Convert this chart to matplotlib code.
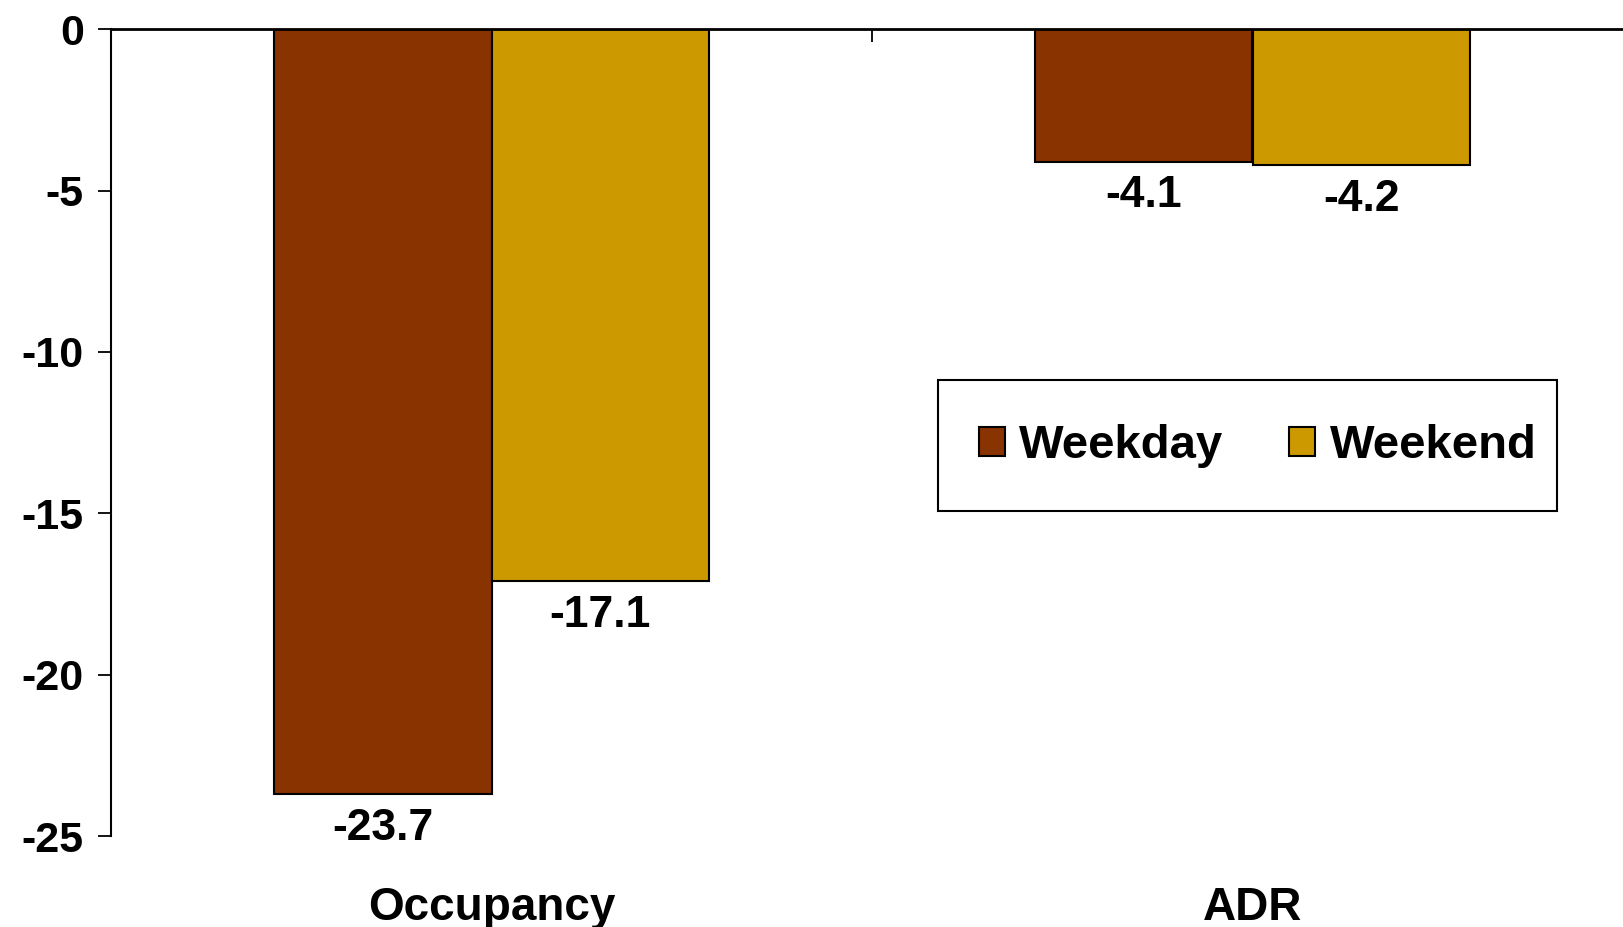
import matplotlib
matplotlib.use("Agg")
import matplotlib.pyplot as plt
from matplotlib.patches import Rectangle
import numpy as np

categories = ["Occupancy", "ADR"]
weekday = [-23.7, -4.1]
weekend = [-17.1, -4.2]
series_names = ["Weekday", "Weekend"]
yticks = [0, -5, -10, -15, -20, -25]
ytick_labels = ["0", "-5", "-10", "-15", "-20", "-25"]

plt.rcParams["font.family"] = ["Liberation Sans", "DejaVu Sans"]
plt.rcParams["font.weight"] = "bold"
plt.rcParams["axes.unicode_minus"] = False

C_WD = "#883300"
C_WE = "#CC9900"

fig = plt.figure(figsize=(16.23, 9.27), dpi=100)
ax = fig.add_axes([111/1623, 1-836/927, 1522/1623, (836-29.3)/927])

x = np.arange(len(categories))
w = 0.286
b1 = ax.bar(x - w/2, weekday, w, color=C_WD, edgecolor="black", linewidth=1.5, label=series_names[0], zorder=2)
b2 = ax.bar(x + w/2, weekend, w, color=C_WE, edgecolor="black", linewidth=1.5, label=series_names[1], zorder=2)

for bars, vals in ((b1, weekday), (b2, weekend)):
    for r, v in zip(bars, vals):
        ax.annotate(f"{v:.1f}", (r.get_x() + r.get_width()/2, v), xytext=(0, -10),
                    textcoords="offset points", ha="center", va="top",
                    fontsize=32, fontweight="bold")

ax.set_xlim(-0.5, 1.5)
ax.set_ylim(-25, 0)
ax.set_yticks(yticks)
ax.set_yticklabels(ytick_labels, fontsize=31, fontweight="bold")
ax.tick_params(axis="y", direction="out", length=9.5, width=1.3, pad=10)

ax.set_xticks(x)
ax.set_xticklabels(categories, fontsize=33, fontweight="bold")
ax.tick_params(axis="x", which="major", length=0, pad=36, bottom=True, top=False)
ax.set_xticks([0.5, 1.5], minor=True)
ax.tick_params(axis="x", which="minor", top=True, bottom=False, direction="in", length=9, width=1.3)

for s in ("bottom", "right"):
    ax.spines[s].set_visible(False)
ax.spines["top"].set_linewidth(2)
ax.spines["left"].set_linewidth(1.5)

# legend box
fig.add_artist(Rectangle((938/1623, 1-511/927), 619/1623, 131/927, transform=fig.transFigure,
                         fill=True, facecolor="white", edgecolor="black", linewidth=1.5, zorder=5))
leg = fig.legend(handles=[b1, b2], labels=series_names, loc="center left",
                 bbox_to_anchor=(979/1623, 1-446/927),
                 ncol=2, prop={"weight": "bold", "size": 34},
                 frameon=False, borderpad=0, borderaxespad=0,
                 handlelength=0.55, handleheight=0.55, handletextpad=0.3, columnspacing=1.4)
leg.set_zorder(6)
for h in leg.legend_handles:
    h.set_edgecolor("black")
    h.set_linewidth(1.5)

fig.savefig("out.png", dpi=100)
